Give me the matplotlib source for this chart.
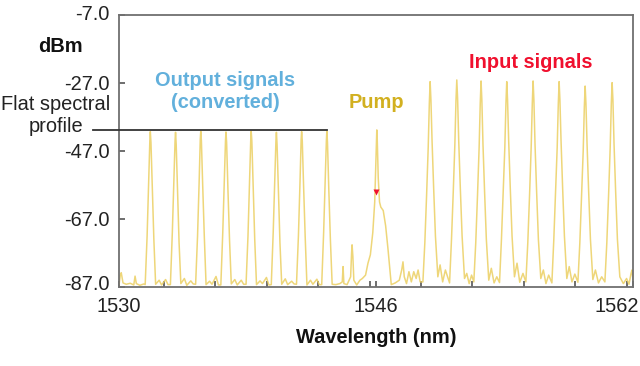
import matplotlib
matplotlib.use("Agg")
import matplotlib.pyplot as plt
from matplotlib.ticker import MultipleLocator, FixedLocator
from matplotlib.transforms import ScaledTranslation

plt.rcParams["font.family"] = ["Liberation Sans", "DejaVu Sans"]

# spectrum trace (wavelength in nm, power in dBm)
wavelength_nm = [
    1530.00, 1530.08, 1530.14, 1530.25, 1530.45, 1530.70, 1530.92, 1531.00, 1531.08, 1531.30, 1531.55,
    # output signals (converted)
    1531.63, 1531.75, 1531.85, 1531.92, 1531.95, 1531.99, 1532.07, 1532.17, 1532.28, 1532.50, 1532.65, 1532.90, 1533.05,
    1533.20, 1533.32, 1533.42, 1533.49, 1533.52, 1533.56, 1533.64, 1533.74, 1533.85, 1534.07, 1534.22, 1534.47, 1534.62,
    1534.77, 1534.89, 1534.99, 1535.06, 1535.09, 1535.13, 1535.21, 1535.31, 1535.42, 1535.64, 1535.79, 1536.04, 1536.19,
    1536.34, 1536.46, 1536.56, 1536.63, 1536.66, 1536.70, 1536.78, 1536.88, 1536.99, 1537.21, 1537.36, 1537.61, 1537.76,
    1537.91, 1538.03, 1538.13, 1538.20, 1538.23, 1538.27, 1538.35, 1538.45, 1538.56, 1538.78, 1538.93, 1539.18, 1539.33,
    1539.48, 1539.60, 1539.70, 1539.77, 1539.80, 1539.84, 1539.92, 1540.02, 1540.13, 1540.35, 1540.50, 1540.75, 1540.90,
    1541.05, 1541.17, 1541.27, 1541.34, 1541.37, 1541.41, 1541.49, 1541.59, 1541.70, 1541.92, 1542.07, 1542.32, 1542.47,
    1542.62, 1542.74, 1542.84, 1542.91, 1542.94, 1542.98, 1543.06, 1543.16, 1543.27,
    # gap and pump
    1543.50, 1543.75, 1543.90, 1543.95, 1544.00, 1544.20, 1544.42, 1544.48, 1544.51, 1544.56, 1544.62, 1544.80,
    1545.00, 1545.15, 1545.35, 1545.50, 1545.65, 1545.80, 1545.92, 1545.99, 1546.03, 1546.05, 1546.08, 1546.14,
    1546.22, 1546.30, 1546.45, 1546.60, 1546.75, 1546.95,
    1547.20, 1547.45, 1547.60, 1547.68, 1547.76, 1547.90, 1548.05, 1548.20, 1548.35, 1548.50, 1548.62, 1548.75,
    # input signals
    1548.92, 1549.04, 1549.15, 1549.25, 1549.32, 1549.37, 1549.42, 1549.49, 1549.59, 1549.70, 1549.85, 1549.99, 1550.15, 1550.32,
    1550.58, 1550.70, 1550.81, 1550.91, 1550.98, 1551.03, 1551.08, 1551.15, 1551.25, 1551.36, 1551.51, 1551.65, 1551.80, 1551.95,
    1552.09, 1552.21, 1552.32, 1552.42, 1552.49, 1552.54, 1552.59, 1552.66, 1552.76, 1552.87, 1553.02, 1553.18, 1553.35, 1553.52,
    1553.69, 1553.81, 1553.92, 1554.02, 1554.09, 1554.14, 1554.19, 1554.26, 1554.36, 1554.47, 1554.62, 1554.78, 1554.95, 1555.15,
    1555.33, 1555.45, 1555.56, 1555.66, 1555.73, 1555.78, 1555.83, 1555.90, 1556.00, 1556.11, 1556.26, 1556.42, 1556.58, 1556.75,
    1556.95, 1557.07, 1557.18, 1557.28, 1557.35, 1557.40, 1557.45, 1557.52, 1557.62, 1557.73, 1557.88, 1558.03, 1558.20, 1558.38,
    1558.57, 1558.69, 1558.80, 1558.90, 1558.97, 1559.02, 1559.07, 1559.14, 1559.24, 1559.35, 1559.50, 1559.66, 1559.85, 1560.05,
    1560.25, 1560.37, 1560.48, 1560.58, 1560.65, 1560.70, 1560.75, 1560.82, 1560.92, 1561.03, 1561.18, 1561.40, 1561.60,
    1561.75, 1561.88, 1561.94, 1562.00,
]
power_dbm = [
    -86.5, -83.5, -82.8, -85.8, -86.2, -85.9, -86.4, -83.8, -86.0, -86.5, -86.1,
    # output signals (converted)
    -86.3, -72, -56, -44, -41.3, -44.5, -57, -73, -86.2, -85.0, -86.4, -84.8, -86.3,
    -86.3, -71, -55, -44, -41.5, -45, -58, -74, -86.0, -84.5, -86.5, -85.2, -86.1,
    -86.2, -72, -56, -43.5, -41.2, -44, -57, -72, -86.3, -85.3, -86.2, -83.9, -86.4,
    -86.4, -71, -55, -44, -41.4, -44.5, -58, -73, -86.1, -84.8, -86.4, -85.0, -86.2,
    -86.2, -72, -56, -44, -41.2, -44, -57, -73, -86.3, -85.2, -86.0, -84.2, -86.4,
    -86.3, -71, -55, -44, -41.5, -45, -58, -74, -86.2, -84.6, -86.3, -85.3, -86.1,
    -86.2, -72, -56, -43.5, -41.3, -44, -57, -72, -86.4, -85.0, -86.2, -84.7, -86.3,
    -86.3, -71, -55, -44, -41.2, -44.5, -58, -73, -86.2,
    # gap and pump
    -86.3, -86.0, -85.5, -81.0, -86.0, -86.3, -84.0, -77.0, -74.6, -78.0, -85.0, -86.4,
    -85.0, -84.5, -83.5, -80.0, -77.5, -71.0, -62.0, -50.0, -42.0, -40.8, -44.0, -55.0,
    -62.0, -63.5, -64.5, -69.0, -76.0, -86.3,
    -85.8, -85.0, -82.0, -79.6, -84.0, -86.0, -82.5, -85.5, -82.5, -84.5, -82.0, -85.5,
    # input signals
    -85.5, -74, -60, -46, -33, -26.6, -32, -44, -58, -72, -84, -80.5, -85.5, -82.0,
    -85.8, -73, -59, -45, -32, -26.1, -31.5, -44, -58, -72, -84.5, -83.0, -86.0, -83.5,
    -85.5, -74, -60, -46, -33, -26.4, -32, -45, -59, -73, -85.0, -81.5, -85.8, -84.0,
    -85.7, -73, -59, -46, -33, -26.6, -32, -44, -58, -72, -84.0, -80.0, -85.6, -83.0,
    -85.5, -74, -60, -46, -33, -26.4, -32, -45, -59, -73, -84.5, -82.0, -86.0, -83.5,
    -85.8, -73, -59, -46, -33, -26.6, -32, -44, -58, -72, -84.5, -81.0, -85.5, -83.2,
    -85.6, -74, -60, -47, -34, -27.9, -33, -45, -59, -73, -84.8, -82.0, -85.8, -84.0,
    -85.5, -74, -60, -46, -33, -26.9, -32, -45, -59, -73, -84.0, -86.0, -84.5,
    -86.2, -83.0, -82.0, -85.0,
]
assert len(wavelength_nm) == len(power_dbm)

pump_marker_nm = 1546.03
pump_marker_dbm = -59.0
flat_level_dbm = -40.8
last_output_nm = 1542.94

x_labels = [1530, 1546, 1562]
y_ticks = [-7.0, -27.0, -47.0, -67.0, -87.0]

fig = plt.figure(figsize=(6.4, 3.66), dpi=100)
ax = fig.add_axes([119 / 640, 1 - 287 / 366, 514 / 640, 272 / 366])

ax.plot(wavelength_nm, power_dbm, color="#EBCF62", lw=1.1, alpha=0.85, zorder=2)
ax.plot(pump_marker_nm, pump_marker_dbm, marker="v", color="#F0102E", ms=5, mec="none", zorder=3)

# flat spectral profile line, starts left of the axes
ax.plot([1528.4, last_output_nm], [flat_level_dbm, flat_level_dbm],
        color="#333333", lw=1.3, clip_on=False, zorder=4)

ax.set_xlim(1530, 1562)
ax.set_ylim(-87, -7)
ax.xaxis.set_major_locator(FixedLocator(x_labels))
ax.set_xticklabels([str(v) for v in x_labels])
ax.xaxis.set_minor_locator(MultipleLocator(3.2))
ax.set_yticks(y_ticks)
ax.set_yticklabels(["%.1f" % v for v in y_ticks])

ax.tick_params(axis="both", which="both", direction="in", color="#555555",
               labelsize=14.4, labelcolor="#222222")
ax.tick_params(axis="x", which="both", length=4, width=1.2, pad=7)
ax.tick_params(axis="y", length=4, width=1.2, pad=7)
ax.tick_params(top=False, right=False)

# last wavelength label sits flush with the right edge of the picture
last = ax.get_xticklabels()[-1]
last.set_horizontalalignment("right")
last.set_transform(last.get_transform() + ScaledTranslation(6 / 100, 0, fig.dpi_scale_trans))

# end labels of the y axis sit a little inside the frame
for lab in ax.get_yticklabels():
    if lab.get_text() == "-87.0":
        lab.set_transform(lab.get_transform() + ScaledTranslation(0, 4 / 100, fig.dpi_scale_trans))
    if lab.get_text() == "-7.0":
        lab.set_transform(lab.get_transform() + ScaledTranslation(0, 2 / 100, fig.dpi_scale_trans))

for name, sp in ax.spines.items():
    sp.set_color("#707070")
    sp.set_linewidth(1.3)

ax.set_xlabel("Wavelength (nm)", fontsize=14.4, fontweight="bold", labelpad=9, color="#111111")

fig.text(60 / 640, 1 - 47 / 366, "dBm", fontsize=14.4, fontweight="bold",
         ha="center", va="center", color="#111111")
fig.text(225 / 640, 1 - 91.5 / 366, "Output signals\n(converted)", fontsize=14.4,
         fontweight="bold", color="#62B0DC", ha="center", va="center", linespacing=1.15)
fig.text(531 / 640, 1 - 62 / 366, "Input signals", fontsize=14.4, fontweight="bold",
         color="#F0102E", ha="center", va="center")
fig.text(376 / 640, 1 - 102 / 366, "Pump", fontsize=14.4, fontweight="bold",
         color="#D2B020", ha="center", va="center")
fig.text(56 / 640, 1 - 115 / 366, "Flat spectral\nprofile", fontsize=14.4,
         color="#222222", ha="center", va="center", linespacing=1.2)

fig.savefig("out.png", dpi=100)
